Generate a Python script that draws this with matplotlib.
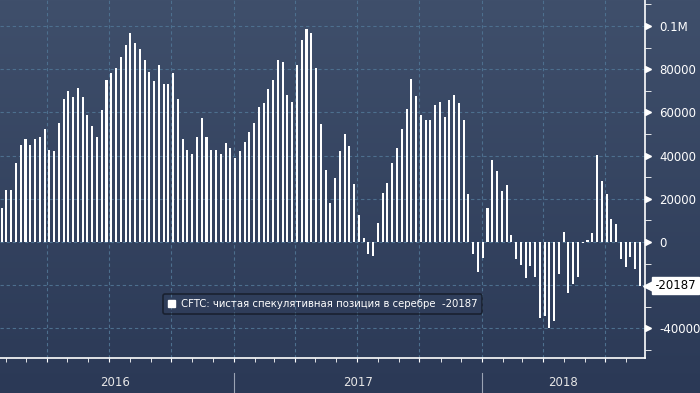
import numpy as np
import pandas as pd
import matplotlib
matplotlib.use("Agg")
import matplotlib.pyplot as plt
import matplotlib.dates as mdates
from matplotlib.patches import Patch
from matplotlib.ticker import MultipleLocator, FixedLocator
from matplotlib.transforms import blended_transform_factory

# CFTC net speculative position in silver, weekly, thousands of contracts
first_week = "2016-01-26"
net_position = [
    15.6, 23.9, 23.9, 36.4, 44.7, 47.5, 45.1, 47.5, 48.8, 52.2,
    42.8, 41.9, 54.9, 66.4, 70.1, 66.9, 71.5, 66.9, 58.6, 53.5,
    48.8, 60.9, 75.2, 78.0, 80.3, 85.4, 91.4, 96.5, 92.3, 89.1,
    84.0, 78.9, 74.3, 82.1, 72.9, 73.3, 78.0, 66.4, 47.5, 42.8,
    40.5, 48.8, 57.2, 48.4, 42.8, 42.8, 40.5, 45.6, 43.3, 39.1,
    41.9, 46.1, 50.7, 54.9, 62.7, 64.1, 70.6, 75.2, 84.0, 83.1,
    67.8, 65.0, 81.7, 93.7, 98.8, 96.5, 80.3, 54.7, 33.4, 18.1,
    29.7, 42.2, 50.0, 44.5, 26.9, 12.5, 1.9, -5.6, -6.5, 8.8,
    22.7, 27.3, 36.6, 43.6, 52.4, 61.6, 75.5, 67.6, 58.8, 56.3,
    56.3, 63.2, 64.6, 57.7, 65.5, 67.8, 64.2, 56.3, 22.2, -5.6,
    -13.9, -7.4, 15.8, 38.0, 32.9, 23.6, 26.4, 3.2, -7.9, -10.7,
    -16.7, -11.1, -16.2, -35.2, -34.3, -39.8, -36.6, -14.8, 4.6, -23.6,
    -19.5, -16.2, -0.5, 0.9, 4.2, 40.3, 28.3, 22.2, 10.7, 8.3,
    -7.9, -11.6, -6.9, -12.5, -20.187,
]
last_value = -20187
legend_label = "CFTC: чистая спекулятивная позиция в серебре  -20187"
years = ["2016", "2017", "2018"]
ytick_values = [-40000, -20000, 0, 20000, 40000, 60000, 80000, 100000]
ytick_labels = ["-40000", "", "0", "20000", "40000", "60000", "80000", "0.1M"]

BG_TOP = "#3f4f6b"
BG_BOTTOM = "#2b3956"
GRID = "#4d6f8e"

plt.rcParams["font.family"] = ["DejaVu Sans"]


def draw_background(fig):
    bg = fig.add_axes([0, 0, 1, 1], zorder=-10)
    top = np.array(matplotlib.colors.to_rgb(BG_TOP))
    bot = np.array(matplotlib.colors.to_rgb(BG_BOTTOM))
    t = np.linspace(0, 1, 256)[:, None]
    grad = top * (1 - t) + bot * t
    bg.imshow(grad[:, None, :], aspect="auto", extent=[0, 1, 0, 1])
    bg.set_axis_off()


def plot_chart():
    fig = plt.figure(figsize=(7, 3.93), dpi=100)
    draw_background(fig)

    ax = fig.add_axes([0, 35 / 393, 645 / 700, 358 / 393])
    ax.patch.set_alpha(0)

    dates = pd.date_range(first_week, periods=len(net_position), freq="7D")
    values = np.array(net_position) * 1000
    ax.bar(dates, values, width=3, color="white", zorder=3)

    x0 = pd.Timestamp(first_week) - pd.Timedelta(hours=60)
    ax.set_xlim(x0, x0 + pd.Timedelta(days=948))
    ax.set_ylim(-53700, 112000)

    # grid
    ax.xaxis.set_major_locator(mdates.MonthLocator(bymonth=[1, 4, 7, 10]))
    ax.xaxis.set_minor_locator(mdates.MonthLocator())
    ax.yaxis.set_major_locator(FixedLocator(ytick_values))
    ax.yaxis.set_minor_locator(MultipleLocator(10000))
    ax.grid(True, which="major", color=GRID, linestyle=(0, (3, 2.5)),
            linewidth=0.8, zorder=0)
    ax.tick_params(axis="x", which="both", length=3, color="white",
                   labelbottom=False)

    ax.yaxis.tick_right()
    ax.set_yticklabels(ytick_labels)
    ax.tick_params(axis="y", which="major", length=0, pad=10,
                   labelcolor="white", labelsize=8.5)
    ax.tick_params(axis="y", which="minor", length=4, color="white")

    for side in ("top", "left"):
        ax.spines[side].set_visible(False)
    for side in ("bottom", "right"):
        ax.spines[side].set_color("white")
        ax.spines[side].set_linewidth(1.2)

    # arrow-like major ticks on the right axis
    trans = blended_transform_factory(ax.transAxes, ax.transData)
    for v in ytick_values:
        if v == -20000:
            continue
        ax.plot([1.004], [v], marker=">", markersize=5, color="white",
                transform=trans, clip_on=False)

    # last value tag
    ax.plot([1.006], [last_value], marker="<", markersize=9, color="white",
            transform=trans, clip_on=False, zorder=5)
    ax.text(1.015, last_value, str(last_value), transform=trans,
            va="center", ha="left", fontsize=8.5, color="black",
            bbox=dict(boxstyle="square,pad=0.2", fc="white", ec="white"))

    leg = ax.legend(handles=[Patch(facecolor="white", edgecolor="white")],
                    labels=[legend_label], loc="center",
                    bbox_to_anchor=(0.5, 0.151), fontsize=7.3,
                    labelcolor="white", frameon=True, fancybox=True,
                    handlelength=0.7, handleheight=0.7, handletextpad=0.6,
                    borderpad=0.5)
    leg.get_frame().set_facecolor("none")
    leg.get_frame().set_edgecolor("#141a26")
    leg.get_frame().set_linewidth(1.2)

    # year band
    for year in years[1:]:
        x = ax.transData.transform((mdates.date2num(pd.Timestamp(year + "-01-01")), 0))[0]
        fig.add_artist(plt.Line2D([x / 700, x / 700], [0, 20 / 393],
                                  color="#9aa3b3", linewidth=0.8))
    for year, px in zip(years, [115, 358, 563]):
        fig.text(px / 700, 11 / 393, year, ha="center", va="center",
                 color="#e6e6e6", fontsize=8.5)

    return fig


if __name__ == "__main__":
    fig = plot_chart()
    fig.savefig("out.png", dpi=100)
